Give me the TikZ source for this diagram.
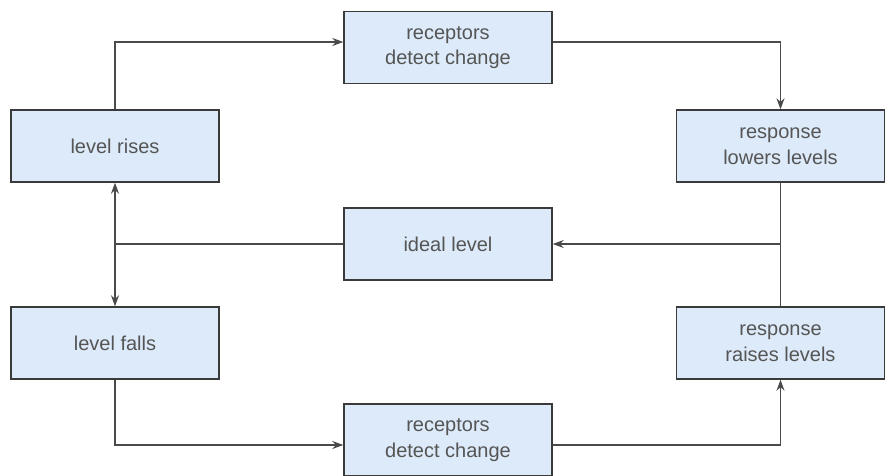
\documentclass[tikz,border=0pt]{standalone}
\usepackage{fontspec}
\setmainfont{Liberation Sans}
\usetikzlibrary{arrows.meta}
\definecolor{boxfill}{HTML}{DCEAF9}
\definecolor{boxline}{HTML}{3A3A3A}
\definecolor{linkline}{HTML}{4A4A4A}
\definecolor{labeltext}{HTML}{555555}
\begin{document}
\begin{tikzpicture}[x=1pt,y=-1pt,
  stagebox/.style={draw=boxline,fill=boxfill,line width=1.4pt,
    minimum width=208pt,minimum height=72pt,inner sep=0pt,
    align=center,text=labeltext,
    font=\fontsize{20}{25.5}\selectfont},
  link/.style={draw=linkline,line width=1.3pt},
  tip/.style={link,-{Stealth[length=11pt,width=8pt]}}]
\useasboundingbox (0,0) rectangle (887,475);
\fill[white] (0,0) rectangle (887,475);

\node[stagebox] (rt) at (448,47.5) {receptors\\detect change};
\node[stagebox] (lr) at (115,146) {level rises};
\node[stagebox] (rl) at (780.5,146) {response\\lowers levels};
\node[stagebox] (il) at (448,244) {ideal level};
\node[stagebox] (lf) at (115,343) {level falls};
\node[stagebox] (rr) at (780.5,343) {response\\raises levels};
\node[stagebox] (rb) at (448,440) {receptors\\detect change};

% upper loop
\draw[tip] (lr.north) |- ([yshift=5.5pt]rt.west);
\draw[tip] ([yshift=5.5pt]rt.east) -| (rl.north);
% right-hand return to the set point
\draw[link] (rl.south) -- (rr.north);
\coordinate (rjoin) at (rl.south |- il.east);
\draw[tip] (rjoin) -- (il.east);
% set point to both deviations
\coordinate (ljoin) at (lr.south |- il.west);
\draw[link] (il.west) -- (ljoin);
\draw[tip] (ljoin) -- (lr.south);
\draw[tip] (ljoin) -- (lf.north);
% lower loop
\draw[tip] (lf.south) |- ([yshift=-5pt]rb.west);
\draw[tip] ([yshift=-5pt]rb.east) -| (rr.south);
\end{tikzpicture}
\end{document}
